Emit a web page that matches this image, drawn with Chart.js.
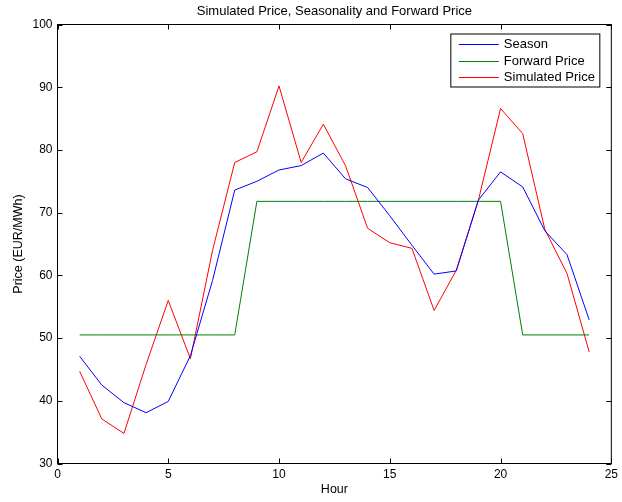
<!DOCTYPE html>
<html>
<head>
<meta charset="utf-8">
<script src="https://cdn.jsdelivr.net/npm/chart.js@4"></script>
<style>
  body { margin: 0; background: #fff; }
  #wrap { width: 622px; height: 502px; }
</style>
</head>
<body>
<div id="wrap"><canvas id="myChart"></canvas></div>
<script>
const hours = [1, 2, 3, 4, 5, 6, 7, 8, 9, 10, 11, 12, 13, 14, 15, 16, 17, 18, 19, 20, 21, 22, 23, 24];
const season = [47.1, 42.5, 39.7, 38.1, 39.9, 47.2, 59.2, 73.6, 75.0, 76.8, 77.5, 79.5,
                75.4, 74.0, 69.5, 64.8, 60.2, 60.7, 72.0, 76.5, 74.1, 67.1, 63.3, 52.9];
const forward = [50.5, 50.5, 50.5, 50.5, 50.5, 50.5, 50.5, 50.5, 71.8, 71.8, 71.8, 71.8,
                 71.8, 71.8, 71.8, 71.8, 71.8, 71.8, 71.8, 71.8, 50.5, 50.5, 50.5, 50.5];
const simulated = [44.7, 37.1, 34.8, 45.8, 56.0, 46.7, 64.0, 78.0, 79.7, 90.2, 78.0, 84.1,
                   77.5, 67.5, 65.2, 64.3, 54.4, 60.8, 72.0, 86.6, 82.6, 67.3, 60.3, 47.8];
const seriesNames = ['Season', 'Forward Price', 'Simulated Price'];
const seriesColors = ['#0000ff', '#008000', '#ff0000'];
const xTicks = [0, 5, 10, 15, 20, 25];
const yTicks = [30, 40, 50, 60, 70, 80, 90, 100];

Chart.defaults.font.family = '"Liberation Sans", Arial, sans-serif';
Chart.defaults.color = '#000';

const pts = vals => hours.map((h, i) => ({ x: h, y: vals[i] }));

// axes box with inward ticks on all sides, plus a matlab style legend
const frame = {
    id: 'frame',
    afterDraw(chart) {
        const { ctx, chartArea: a, scales: { x, y } } = chart;
        ctx.save();
        ctx.strokeStyle = '#000';
        ctx.lineWidth = 1;
        ctx.beginPath();
        xTicks.forEach(v => {
            const px = Math.round(x.getPixelForValue(v)) + 0.5;
            ctx.moveTo(px, a.bottom); ctx.lineTo(px, a.bottom - 5);
            ctx.moveTo(px, a.top); ctx.lineTo(px, a.top + 5);
        });
        yTicks.forEach(v => {
            const py = Math.round(y.getPixelForValue(v)) + 0.5;
            ctx.moveTo(a.left, py); ctx.lineTo(a.left + 5, py);
            ctx.moveTo(a.right, py); ctx.lineTo(a.right - 5, py);
        });
        ctx.stroke();
        ctx.strokeRect(a.left, a.top, a.right - a.left, a.bottom - a.top);

        // legend
        const bx = a.right - 160.5, by = a.top + 9.5, bw = 149, bh = 53;
        ctx.fillStyle = '#fff';
        ctx.fillRect(bx, by, bw, bh);
        ctx.strokeStyle = '#000';
        ctx.strokeRect(bx, by, bw, bh);
        ctx.font = '13px "Liberation Sans", Arial, sans-serif';
        ctx.textBaseline = 'middle';
        seriesNames.forEach((name, i) => {
            const ly = Math.round(by + 10 + i * 16.5) + 0.5;
            ctx.beginPath();
            ctx.strokeStyle = seriesColors[i];
            ctx.moveTo(bx + 8, ly);
            ctx.lineTo(bx + 48, ly);
            ctx.stroke();
            ctx.fillStyle = '#000';
            ctx.fillText(name, bx + 53, ly);
        });
        ctx.restore();
    }
};

new Chart(document.getElementById('myChart'), {
    type: 'line',
    data: {
        datasets: [
            { label: seriesNames[0], data: pts(season), borderColor: seriesColors[0] },
            { label: seriesNames[1], data: pts(forward), borderColor: seriesColors[1] },
            { label: seriesNames[2], data: pts(simulated), borderColor: seriesColors[2] }
        ]
    },
    options: {
        responsive: true,
        maintainAspectRatio: false,
        animation: false,
        elements: {
            line: { borderWidth: 1, tension: 0 },
            point: { radius: 0 }
        },
        layout: { padding: { left: 0, right: 7.5, top: 0, bottom: 0 } },
        plugins: {
            legend: { display: false },
            tooltip: { enabled: false },
            title: {
                display: true,
                text: 'Simulated Price, Seasonality and Forward Price',
                fullSize: false,
                color: '#000',
                font: { size: 13, weight: 'normal' },
                padding: { top: 3.2, bottom: 5.7 }
            }
        },
        scales: {
            x: {
                type: 'linear',
                min: 0,
                max: 25,
                afterFit: s => { s.height = 38.5; },
                afterBuildTicks: s => { s.ticks = xTicks.map(v => ({ value: v })); },
                grid: { display: false, drawTicks: false },
                border: { display: false },
                ticks: { font: { size: 12 }, padding: 4, maxRotation: 0 },
                title: { display: true, text: 'Hour', font: { size: 12.5 }, padding: { top: 0, bottom: 4.5 } }
            },
            y: {
                min: 30,
                max: 100,
                afterFit: s => { s.width = 57.5; },
                afterBuildTicks: s => { s.ticks = yTicks.map(v => ({ value: v })); },
                grid: { display: false, drawTicks: false },
                border: { display: false },
                ticks: { font: { size: 12 }, padding: 5 },
                title: { display: true, text: 'Price (EUR/MWh)', font: { size: 12.5 }, padding: { top: 11.2, bottom: 0 } }
            }
        }
    },
    plugins: [frame]
});
</script>
</body>
</html>
